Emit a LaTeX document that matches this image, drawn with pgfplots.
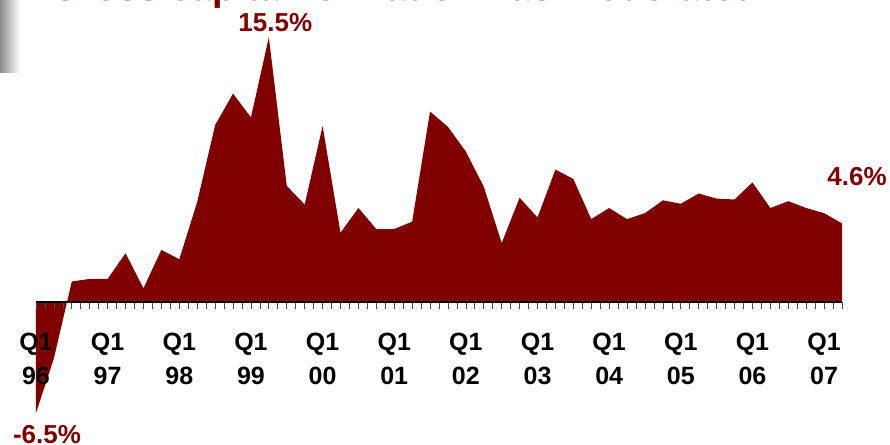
\documentclass[border=0pt]{standalone}
\usepackage{pgfplots}
\pgfplotsset{compat=1.18}
\usepackage{fontspec}
\setmainfont{Liberation Sans}
\definecolor{dred}{HTML}{800000}
\pgfplotstableread{
q v
0 -6.5
1 -3.3
2 1.2
3 1.35
4 1.35
5 2.85
6 0.8
7 3.05
8 2.5
9 5.85
10 10.35
11 12.2
12 10.8
13 15.5
14 6.8
15 5.7
16 10.3
17 4.05
18 5.5
19 4.27
20 4.27
21 4.7
22 11.15
23 10.25
24 8.8
25 6.75
26 3.45
27 6.1
28 4.95
29 7.75
30 7.2
31 4.85
32 5.5
33 4.85
34 5.2
35 5.95
36 5.75
37 6.35
38 6.05
39 6.0
40 7.0
41 5.5
42 5.9
43 5.5
44 5.2
45 4.6
}\gfcf
\begin{document}
\begin{tikzpicture}[x=1pt,y=1pt]
\useasboundingbox (0,0) rectangle (890,444);
\clip (0,0) rectangle (890,444);
\shade[left color=black!45, right color=white] (0,371) rectangle (20,444);
\node[anchor=base west, inner sep=0pt, text=dred, font=\fontsize{38}{38}\selectfont\bfseries] at (50,443) {Gross capital formation has moderated};
\begin{axis}[
  at={(36pt,31pt)}, anchor=south west,
  scale only axis, width=806pt, height=375.8pt,
  xmin=0, xmax=45, ymin=-6.5, ymax=15.5,
  axis x line=middle, axis y line=none,
  x axis line style={-, black, line width=1.2pt},
  xtick={0,4,...,44},
  xticklabels={{Q1\\96},{Q1\\97},{Q1\\98},{Q1\\99},{Q1\\00},{Q1\\01},{Q1\\02},{Q1\\03},{Q1\\04},{Q1\\05},{Q1\\06},{Q1\\07}},
  minor xtick={0,0.5,...,45},
  tick align=outside,
  major tick length=7pt, minor tick length=7pt,
  tick style={draw=black!70, line width=0.7pt},
  xticklabel style={align=center, font=\fontsize{25}{34}\selectfont\bfseries, text=black, anchor=north, inner sep=0pt, yshift=-23.5pt},
  axis on top,
  clip=false,
]
\addplot[fill=dred, draw=none] table[x=q, y=v] {\gfcf} \closedcycle;
\node[anchor=base, inner sep=0pt, text=dred, font=\fontsize{26}{26}\selectfont\bfseries, xshift=6.5pt, yshift=6pt] at (axis cs:13,15.5) {15.5\%};
\node[anchor=base, inner sep=0pt, text=dred, font=\fontsize{26}{26}\selectfont\bfseries, xshift=15pt, yshift=38pt] at (axis cs:45,4.6) {4.6\%};
\node[anchor=north, inner sep=0pt, text=dred, font=\fontsize{26}{26}\selectfont\bfseries, xshift=11pt, yshift=-12pt] at (axis cs:0,-6.5) {-6.5\%};
\end{axis}
\end{tikzpicture}
\end{document}
